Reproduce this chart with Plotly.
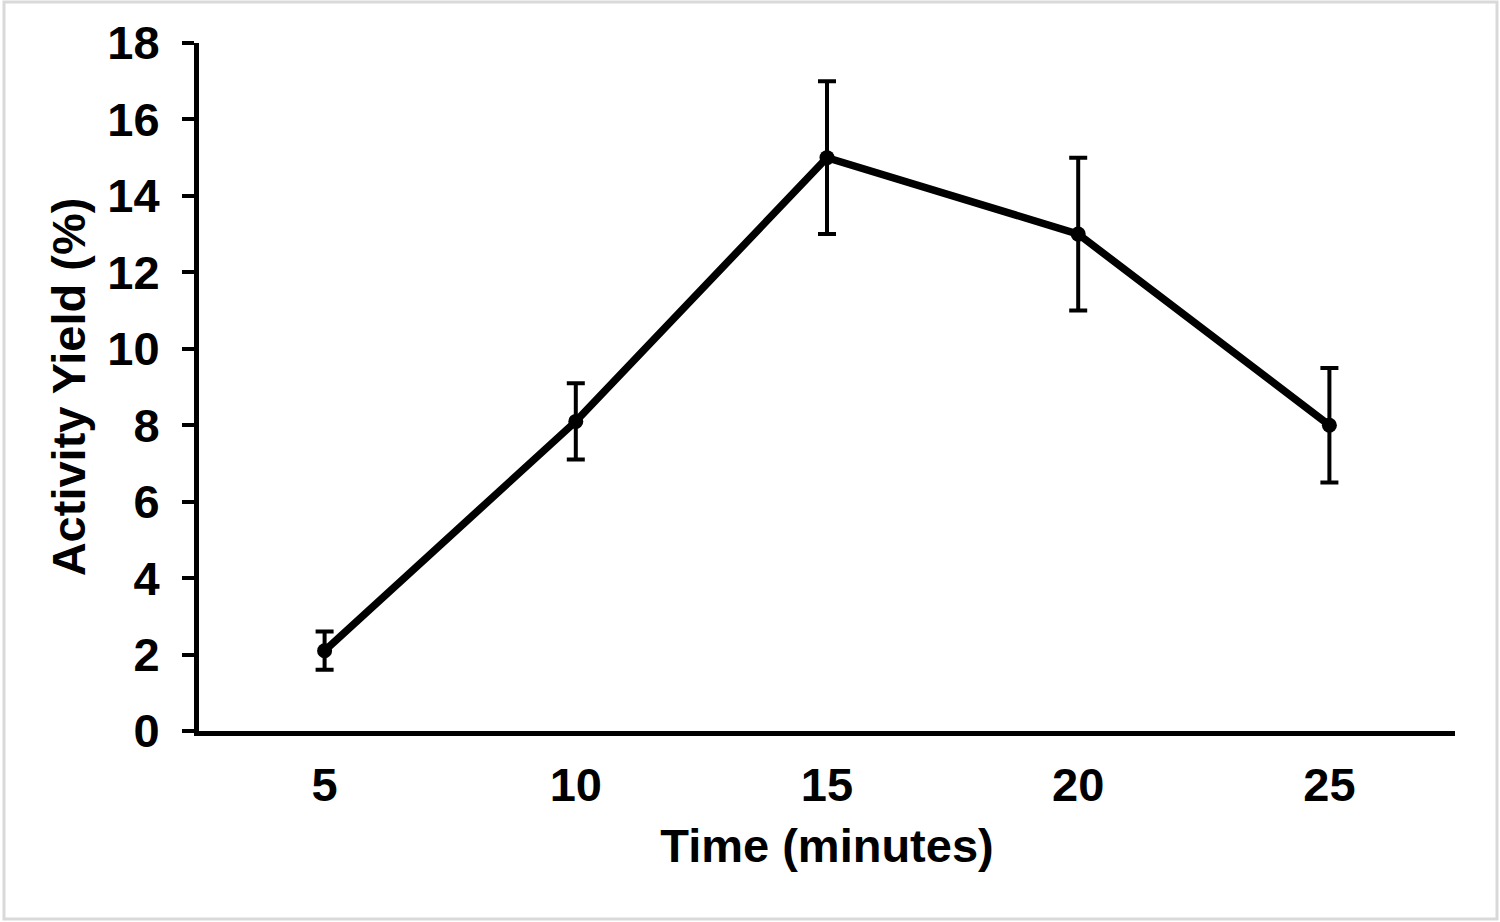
import plotly.graph_objects as go

time_labels = ["5", "10", "15", "20", "25"]
activity_yield = [2.1, 8.1, 15.0, 13.0, 8.0]
yield_error = [0.5, 1.0, 2.0, 2.0, 1.5]
y_ticks = [0, 2, 4, 6, 8, 10, 12, 14, 16, 18]

W, H = 1500, 922
ml, mr, mt, mb = 199, 45, 43, 191

fig = go.Figure()
fig.add_trace(go.Scatter(
    x=time_labels, y=activity_yield,
    mode="lines+markers",
    line=dict(color="black", width=7.5),
    marker=dict(color="black", size=15),
    error_y=dict(type="data", array=yield_error, visible=True,
                 color="black", thickness=4, width=9),
    showlegend=False,
))

font = "Liberation Sans, Arial, sans-serif"
fig.update_layout(
    width=W, height=H,
    margin=dict(l=ml, r=mr, t=mt, b=mb),
    paper_bgcolor="white", plot_bgcolor="white",
    font=dict(family=font, color="black"),
    xaxis=dict(
        type="category", range=[-0.5, 4.5],
        showline=True, linecolor="black", linewidth=5,
        ticks="", showgrid=False, zeroline=False,
        ticklabelstandoff=9,
        tickfont=dict(size=47, family=font, weight="bold"),
        title=dict(text="<b>Time (minutes)</b>", font=dict(size=47, family=font), standoff=20),
    ),
    yaxis=dict(
        range=[0, 18], tickvals=y_ticks,
        showline=True, linecolor="black", linewidth=5,
        ticks="outside", ticklen=12, tickwidth=4, tickcolor="black",
        showgrid=False, zeroline=False,
        ticklabelstandoff=13,
        tickfont=dict(size=47, family=font, weight="bold"),
        title=dict(text="<b>Activity Yield (%)</b>", font=dict(size=47, family=font), standoff=8),
    ),
)

pw = W - ml - mr
ph = H - mt - mb
fig.add_shape(type="rect", xref="paper", yref="paper",
              x0=(4 - ml) / pw, x1=(1497 - ml) / pw,
              y0=-(mb - 3) / ph,
              y1=1 + (mt - 2) / ph,
              line=dict(color="#d9d9d9", width=3), layer="below")

fig.write_html("out.html", config={"displayModeBar": False},
               post_script="document.body.style.margin='0px';")
